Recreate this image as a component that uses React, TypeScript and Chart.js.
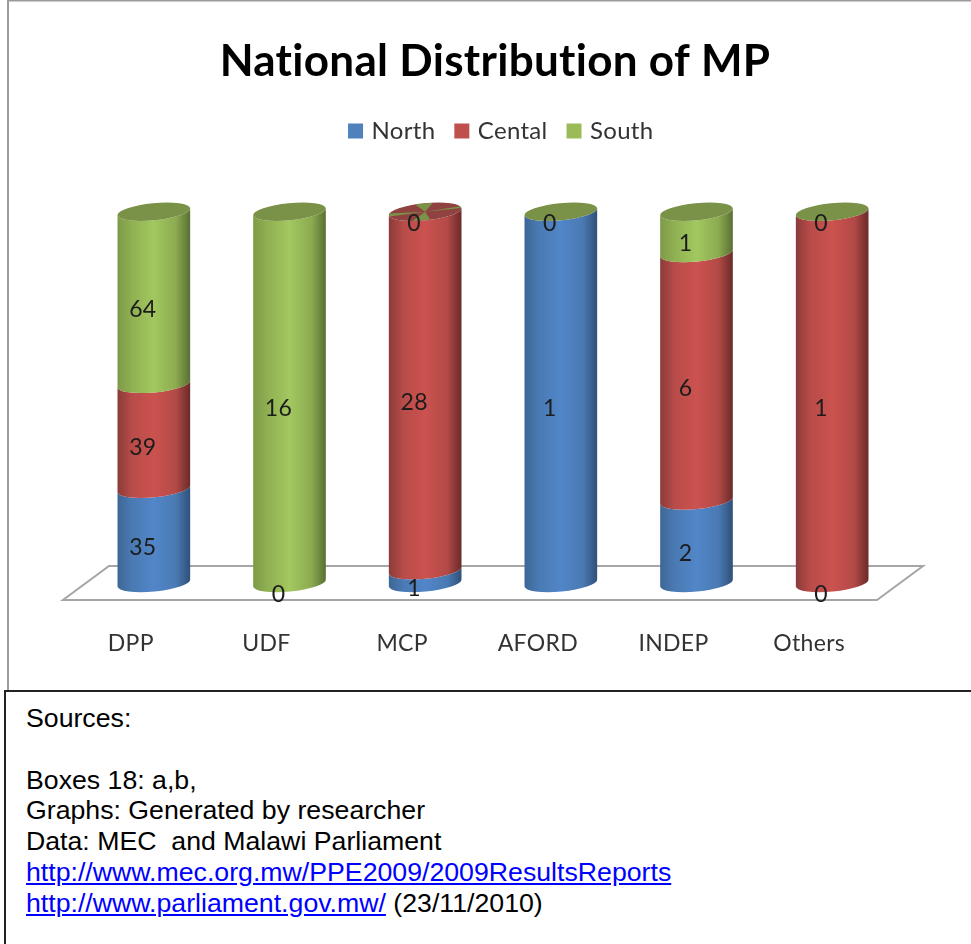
import React, { useEffect, useRef } from "react";
import { Chart, registerables } from "chart.js";

Chart.register(...registerables);

const categories = ["DPP", "UDF", "MCP", "AFORD", "INDEP", "Others"];
const north: (number | null)[] = [35, 0, 1, 1, 2, 0];
const central: (number | null)[] = [39, null, 28, null, 6, 1];
const south: (number | null)[] = [64, 16, 0, 0, 1, 0];
const seriesNames = ["North", "Cental", "South"];
const seriesColors = ["#4f81bd", "#c0504d", "#9bbb59"];
const sourceLines = ["Boxes 18: a,b,", "Graphs: Generated by researcher", "Data: MEC  and Malawi Parliament"];

const raw = [north, central, south];
const totals = categories.map((_, i) => raw.reduce((s, arr) => s + (arr[i] ?? 0), 0));
const share = (arr: (number | null)[]) => arr.map((v, i) => (v === null ? null : (v / totals[i]) * 100));

const palette = [
  { stops: ["#3d6695", "#4a7ab3", "#5186c8", "#4a7ab3", "#2f4f78"], cap: "#3f6797" },
  { stops: ["#8a3b39", "#b84c49", "#cb524f", "#b34a47", "#692a29"], cap: "#8f4240" },
  { stops: ["#7d9a48", "#90b052", "#a2c85f", "#8cab50", "#586f32"], cap: "#7a9148" },
];
const STOP_AT = [0, 0.2, 0.5, 0.8, 1];
const DEPTH_X = 23;
const DEPTH_Y = -17;
const TILT = (-5.5 * Math.PI) / 180;
const RY = 8.5;
const GLITCH_CATEGORY = "MCP";

const cylinderPlugin = {
  id: "cylinders",
  beforeUpdate(chart: any) {
    chart.ctx.letterSpacing = "0.3px";
  },
  afterLayout(chart: any) {
    chart.legend.left += 7.5;
    chart.legend.right += 7.5;
  },
  beforeDraw(chart: any) {
    const { ctx, height, width } = chart;
    ctx.save();
    ctx.strokeStyle = "#9c9c9c";
    ctx.lineWidth = 2;
    ctx.beginPath();
    ctx.moveTo(8, height + 2);
    ctx.lineTo(8, 0.5);
    ctx.lineTo(width, 0.5);
    ctx.stroke();
    ctx.restore();
  },
  beforeDatasetsDraw(chart: any) {
    const { ctx, chartArea: a } = chart;
    ctx.save();
    ctx.strokeStyle = "#a6a6a6";
    ctx.lineWidth = 2;
    ctx.beginPath();
    ctx.moveTo(a.left, a.bottom);
    ctx.lineTo(a.right, a.bottom);
    ctx.lineTo(a.right + 2 * DEPTH_X, a.bottom + 2 * DEPTH_Y);
    ctx.lineTo(a.left + 2 * DEPTH_X, a.bottom + 2 * DEPTH_Y);
    ctx.closePath();
    ctx.stroke();

    categories.forEach((name, i) => {
      let topInfo: any = null;
      raw.forEach((_, d) => {
        if (raw[d][i] === null) return;
        const el = chart.getDatasetMeta(d).data[i];
        const cx = el.x + DEPTH_X;
        const rx = el.width / 2;
        const yTop = el.y + DEPTH_Y;
        const yBase = el.base + DEPTH_Y;
        topInfo = { cx, rx, yTop, d };
        if (Math.abs(yBase - yTop) < 0.01) return;
        const g = ctx.createLinearGradient(cx - rx, 0, cx + rx, 0);
        palette[d].stops.forEach((c, k) => g.addColorStop(STOP_AT[k], c));
        ctx.fillStyle = g;
        ctx.beginPath();
        ctx.ellipse(cx, yBase, rx, RY, TILT, Math.PI, 0, true);
        ctx.ellipse(cx, yTop, rx, RY, TILT, 0, Math.PI, false);
        ctx.closePath();
        ctx.fill();
      });
      if (topInfo) {
        const { cx, rx, yTop, d } = topInfo;
        const glitch = name === GLITCH_CATEGORY;
        ctx.fillStyle = palette[glitch ? 1 : d].cap;
        ctx.beginPath();
        ctx.ellipse(cx, yTop, rx, RY, TILT, 0, Math.PI * 2);
        ctx.fill();
        if (glitch) {
          ctx.save();
          ctx.beginPath();
          ctx.ellipse(cx, yTop, rx, RY, TILT, 0, Math.PI * 2);
          ctx.clip();
          ctx.fillStyle = palette[2].cap;
          [
            [3.0, 3.35],
            [-0.25, -0.02],
            [4.45, 4.95],
            [1.45, 1.95],
          ].forEach(([s, e]) => {
            ctx.beginPath();
            ctx.moveTo(cx, yTop);
            ctx.ellipse(cx, yTop, rx, RY, TILT, s, e);
            ctx.closePath();
            ctx.fill();
          });
          ctx.restore();
        }
      }
    });

    ctx.fillStyle = "#1c1c1c";
    ctx.font = "23px Lato";
    ctx.textAlign = "center";
    ctx.textBaseline = "middle";
    categories.forEach((_, i) => {
      raw.forEach((arr, d) => {
        const v = arr[i];
        if (v === null) return;
        const el = chart.getDatasetMeta(d).data[i];
        ctx.fillText(String(v), el.x + 12, (el.y + el.base) / 2 - 5.5);
      });
    });
    ctx.restore();
  },
  beforeDatasetDraw() {
    return false;
  },
};

export default function App() {
  const ref = useRef<HTMLCanvasElement>(null);
  useEffect(() => {
    if (!ref.current) return;
    const chart = new Chart(ref.current, {
      type: "bar",
      data: {
        labels: categories,
        datasets: raw.map((arr, d) => ({
          label: seriesNames[d],
          data: share(arr),
          backgroundColor: seriesColors[d],
          borderWidth: 0,
          pointStyle: "rect",
          categoryPercentage: 1,
          barPercentage: 0.538,
        })),
      },
      plugins: [cylinderPlugin],
      options: {
        responsive: false,
        animation: false,
        layout: { padding: { left: 63, right: 44, top: 0, bottom: 0 } },
        plugins: {
          tooltip: { enabled: false },
          title: {
            display: true,
            text: "National Distribution of MP",
            color: "#000000",
            font: { family: "Lato", size: 44, weight: "bold" },
            padding: { top: 35.4, bottom: 8.3 },
          },
          legend: {
            display: true,
            position: "top",
            labels: {
              color: "#333333",
              font: { family: "Lato", size: 24 },
              usePointStyle: true,
              pointStyle: "rect",
              boxWidth: 8,
              boxHeight: 15,
              padding: 22.5,
            },
          },
        },
        scales: {
          x: {
            stacked: true,
            grid: { display: false },
            border: { display: false },
            ticks: { color: "#333333", font: { family: "Lato", size: 23 }, padding: 22, maxRotation: 0 },
            afterFit: (s: any) => {
              s.height = 90;
            },
          },
          y: {
            stacked: true,
            position: "right",
            min: 0,
            max: 120.4,
            grid: { display: false },
            border: { display: false },
            ticks: { display: false },
            afterFit: (s: any) => {
              s.width = 50;
            },
          },
        },
      },
    } as any);
    return () => chart.destroy();
  }, []);

  return (
    <div style={{ position: "fixed", inset: 0, overflow: "hidden", background: "#fff" }}>
      <canvas ref={ref} width={971} height={690} style={{ position: "absolute", left: 0, top: 0, display: "block" }} />
      <div
        style={{
          position: "absolute",
          left: 4,
          top: 690,
          width: 980,
          height: 270,
          borderTop: "2px solid #222",
          borderLeft: "2px solid #222",
          boxSizing: "border-box",
          padding: "11px 0 0 20px",
          font: "26.7px/30.8px 'Liberation Sans', Arial, sans-serif",
          color: "#000",
          whiteSpace: "pre",
        }}
      >
        <div>Sources:</div>
        <div>&nbsp;</div>
        {sourceLines.map((l) => (
          <div key={l}>{l}</div>
        ))}
        <div>
          <a href="http://www.mec.org.mw/PPE2009/2009ResultsReports" style={{ color: "#0000ff" }}>
            http://www.mec.org.mw/PPE2009/2009ResultsReports
          </a>
        </div>
        <div>
          <a href="http://www.parliament.gov.mw/" style={{ color: "#0000ff" }}>
            http://www.parliament.gov.mw/
          </a>{" "}
          (23/11/2010)
        </div>
      </div>
    </div>
  );
}
